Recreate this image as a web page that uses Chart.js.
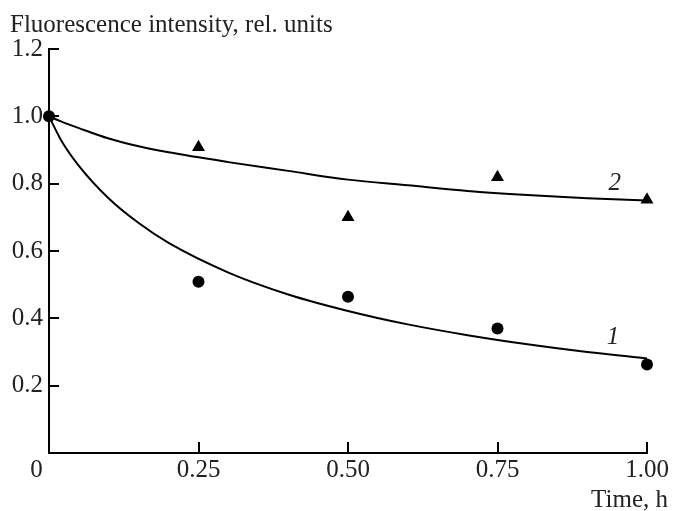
<!DOCTYPE html>
<html>
<head>
<meta charset="utf-8">
<title>Fluorescence intensity</title>
<script src="https://cdn.jsdelivr.net/npm/chart.js@4.4.1/dist/chart.umd.min.js"></script>
<style>
    html, body { margin: 0; padding: 0; background: #fff; }
    #wrap { width: 676px; height: 511px; position: relative; }
</style>
</head>
<body>
<div id="wrap"><canvas id="fluoChart"></canvas></div>
<script>
'use strict';

// Measured points (time, h)
const timePoints = [0, 0.25, 0.5, 0.75, 1.0];
const curve1Points = [1.0, 0.509, 0.464, 0.370, 0.263];
const curve2Times = [0.25, 0.5, 0.75, 1.0];
const curve2Points = [0.908, 0.700, 0.819, 0.752];

// Fitted curves
const fitTimes = [0, 0.02, 0.05, 0.1, 0.15, 0.2, 0.3, 0.4, 0.5, 0.6, 0.7, 0.8, 0.9, 1.0];
const fit1 = [1.0, 0.93, 0.853, 0.756, 0.683, 0.624, 0.536, 0.471, 0.422, 0.382, 0.350, 0.323, 0.300, 0.281];
const fit2 = [1.0, 0.985, 0.965, 0.934, 0.911, 0.893, 0.864, 0.838, 0.812, 0.795, 0.778, 0.766, 0.757, 0.750];

// Axis ticks
const xTicks = [0, 0.25, 0.5, 0.75, 1.0];
const xTickLabels = ['0\u00a0\u00a0\u00a0\u00a0', '0.25', '0.50', '0.75', '1.00'];
const yTicks = [0.2, 0.4, 0.6, 0.8, 1.0, 1.2];

// Texts
const yTitle = 'Fluorescence intensity, rel. units';
const xTitle = 'Time, h';
const curveNames = ['1', '2'];

const SERIF = "'Liberation Serif', 'Times New Roman', serif";
const INK = '#222';

const toXY = (xs, ys) => xs.map((x, i) => ({ x: x, y: ys[i] }));

const textPlugin = {
    id: 'chartTexts',
    afterDraw(chart) {
        const { ctx, scales } = chart;
        ctx.save();
        ctx.fillStyle = INK;
        ctx.font = '25px ' + SERIF;
        ctx.textBaseline = 'alphabetic';
        ctx.textAlign = 'left';
        ctx.fillText(yTitle, 10, 32);
        ctx.textAlign = 'right';
        ctx.fillText(xTitle, 668, 507);

        // curve numbers
        ctx.font = 'italic 25px ' + SERIF;
        ctx.textAlign = 'center';
        ctx.textBaseline = 'middle';
        ctx.fillText(curveNames[0], scales.x.getPixelForValue(0.943), scales.y.getPixelForValue(0.344));
        ctx.fillText(curveNames[1], scales.x.getPixelForValue(0.946), scales.y.getPixelForValue(0.802));
        ctx.restore();
    }
};

Chart.defaults.font.family = SERIF;
Chart.defaults.font.size = 25;
Chart.defaults.color = INK;

new Chart(document.getElementById('fluoChart'), {
    type: 'scatter',
    data: {
        datasets: [
            {
                data: toXY(fitTimes, fit1),
                showLine: true,
                borderColor: '#000',
                borderWidth: 2,
                pointRadius: 0,
                cubicInterpolationMode: 'monotone',
                clip: false
            },
            {
                data: toXY(fitTimes, fit2),
                showLine: true,
                borderColor: '#000',
                borderWidth: 2,
                pointRadius: 0,
                cubicInterpolationMode: 'monotone',
                clip: false
            },
            {
                data: toXY(timePoints, curve1Points),
                pointStyle: 'circle',
                pointRadius: 6,
                pointBorderWidth: 0,
                backgroundColor: '#000',
                clip: false
            },
            {
                data: toXY(curve2Times, curve2Points),
                pointStyle: 'triangle',
                pointRadius: 7.5,
                pointBorderWidth: 0,
                backgroundColor: '#000',
                clip: false
            }
        ]
    },
    options: {
        responsive: true,
        maintainAspectRatio: false,
        animation: false,
        events: [],
        layout: { padding: { top: 49, right: 29, left: 0, bottom: 0 } },
        plugins: {
            legend: { display: false },
            tooltip: { enabled: false }
        },
        scales: {
            x: {
                type: 'linear',
                min: 0,
                max: 1,
                afterBuildTicks: (scale) => { scale.ticks = xTicks.map(v => ({ value: v })); },
                afterFit: (scale) => {
                    scale.height = 58;
                    scale.paddingLeft = 0;
                    scale.paddingRight = 0;
                },
                ticks: {
                    padding: 13,
                    maxRotation: 0,
                    autoSkip: false,
                    callback: (v) => xTickLabels[xTicks.indexOf(v)]
                },
                grid: {
                    drawOnChartArea: false,
                    drawTicks: true,
                    tickLength: -11,
                    color: '#000',
                    lineWidth: 2
                },
                border: { color: '#000', width: 2 }
            },
            y: {
                type: 'linear',
                min: 0,
                max: 1.2,
                afterBuildTicks: (scale) => { scale.ticks = yTicks.map(v => ({ value: v })); },
                afterFit: (scale) => {
                    scale.width = 49;
                    scale.paddingTop = 0;
                    scale.paddingBottom = 0;
                },
                ticks: {
                    padding: 16,
                    autoSkip: false,
                    callback: (v) => v.toFixed(1)
                },
                grid: {
                    drawOnChartArea: false,
                    drawTicks: true,
                    tickLength: -10,
                    color: '#000',
                    lineWidth: 2
                },
                border: { color: '#000', width: 2 }
            }
        }
    },
    plugins: [textPlugin]
});
</script>
</body>
</html>
